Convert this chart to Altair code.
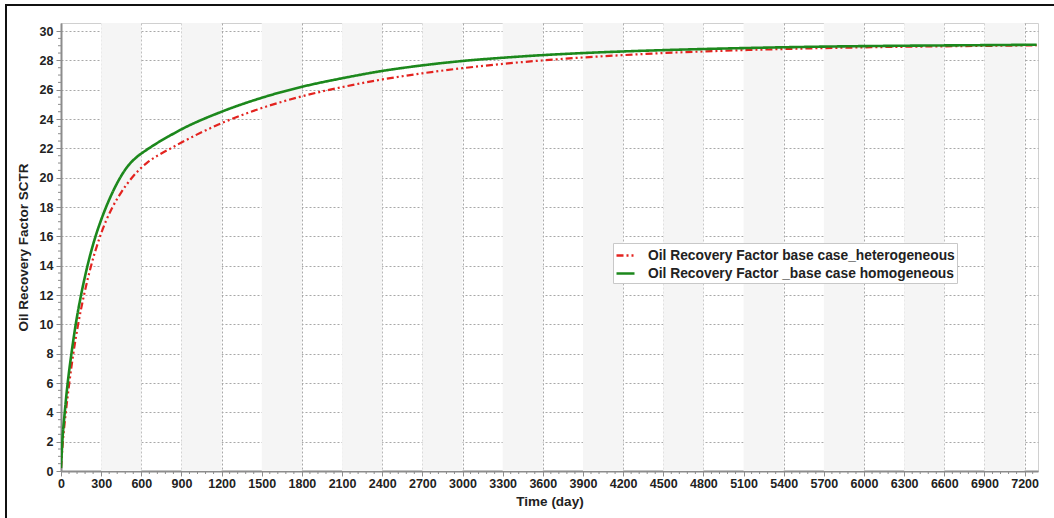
import altair as alt
import pandas as pd

# ---- data ----
het_name = "Oil Recovery Factor base case_heterogeneous"
hom_name = "Oil Recovery Factor _base case homogeneous"

hom_t = [0, 10, 28, 50, 78, 110, 150, 198, 258, 295, 337, 385, 442, 500, 565, 640, 725, 810, 900, 1200, 1500,
         1800, 2100, 2400, 2700, 3000, 3300, 3600, 3900, 4200, 4500, 5100, 5700, 6300, 6900, 7290]
hom_v = [0.2, 2, 4, 6, 8, 10, 12, 14, 16, 17, 18, 19, 20, 20.8, 21.4, 21.9, 22.4, 22.85, 23.3, 24.5, 25.45,
         26.2, 26.78, 27.28, 27.66, 27.96, 28.18, 28.36, 28.5, 28.61, 28.7, 28.84, 28.94, 29.0, 29.04, 29.07]

het_t = [0, 14, 36, 62, 92, 128, 172, 225, 292, 385, 450, 530, 640, 730, 820, 900, 1200, 1500,
         1800, 2100, 2400, 2700, 3000, 3300, 3600, 3900, 4200, 4500, 5100, 5700, 6300, 6900, 7290]
het_v = [0.2, 2, 4, 6, 8, 10, 12, 14, 16, 18, 19, 20, 21, 21.55, 22.0, 22.4, 23.72, 24.75,
         25.55, 26.18, 26.7, 27.12, 27.47, 27.76, 28.0, 28.2, 28.36, 28.5, 28.7, 28.84, 28.93, 28.99, 29.03]

x_ticks = list(range(0, 7201, 300))
y_ticks = list(range(0, 31, 2))
band_start = list(range(300, 7300, 600))
x_minor = [v for v in range(0, 7300, 60) if v % 300 != 0]
y_minor = [v / 2 for v in range(0, 61) if v % 4 != 0]

X_MAX = 7300
Y_MAX = 30.55
W, H = 977, 448

df = pd.concat([
    pd.DataFrame({"t": het_t, "v": het_v, "series": het_name}),
    pd.DataFrame({"t": hom_t, "v": hom_v, "series": hom_name}),
])

xs = alt.Scale(domain=[0, X_MAX], nice=False, zero=False)
ys = alt.Scale(domain=[0, Y_MAX], nice=False, zero=False)

FONT = "Liberation Sans"

x_axis = alt.Axis(
    values=x_ticks, format="d", title="Time (day)", grid=True, gridDash=[2, 2], gridColor="#a8a8a8",
    gridWidth=1, domainColor="#8c8c8c", domainWidth=2, tickColor="#8c8c8c", tickSize=5,
    tickWidth=1, labelFont=FONT, labelFontSize=12.5, labelFontWeight="bold", labelColor="#222",
    labelPadding=1, labelFlush=False, titleFont=FONT, titleFontSize=13.5, titleFontWeight="bold",
    titleColor="#222", titlePadding=5)
y_axis = alt.Axis(
    values=y_ticks, format="d", title="Oil Recovery Factor SCTR", grid=True, gridDash=[2, 2],
    gridColor="#a8a8a8", gridWidth=1, domainColor="#8c8c8c", domainWidth=2,
    tickColor="#8c8c8c", tickSize=5, tickWidth=1, labelFont=FONT, labelFontSize=12.5,
    labelFontWeight="bold", labelColor="#222", labelPadding=3, titleFont=FONT,
    titleFontSize=13.5, titleFontWeight="bold", titleColor="#222", titlePadding=9)

bands = alt.Chart(pd.DataFrame({"s": band_start, "e": [min(b + 300, X_MAX) for b in band_start]})).mark_rect(
    color="#f5f5f5"
).encode(
    x=alt.X("s:Q", scale=xs, axis=x_axis),
    x2="e:Q",
    y=alt.value(0),
    y2=alt.value(H),
)

base_axes = alt.Chart(pd.DataFrame({"t": [0], "v": [0]})).mark_point(opacity=0).encode(
    x=alt.X("t:Q", scale=xs, axis=x_axis),
    y=alt.Y("v:Q", scale=ys, axis=y_axis),
)

xminor = alt.Chart(pd.DataFrame({"m": x_minor})).mark_rule(color="#8c8c8c", strokeWidth=1).encode(
    x=alt.X("m:Q", scale=xs, axis=x_axis), y=alt.value(H), y2=alt.value(H + 3))
yminor = alt.Chart(pd.DataFrame({"m": y_minor})).mark_rule(color="#8c8c8c", strokeWidth=1).encode(
    y=alt.Y("m:Q", scale=ys, axis=y_axis), x=alt.value(-3), x2=alt.value(0))

color_scale = alt.Scale(domain=[het_name, hom_name], range=["#e3231f", "#1c881c"])
dash_scale = alt.Scale(domain=[het_name, hom_name], range=[[7, 3, 2, 3, 2, 3], [1, 0]])

def line(name, width):
    return alt.Chart(df).transform_filter(alt.datum.series == name).mark_line(
        strokeWidth=width, clip=True, interpolate="monotone").encode(
        x=alt.X("t:Q", scale=xs, axis=x_axis),
        y=alt.Y("v:Q", scale=ys, axis=y_axis),
        color=alt.Color("series:N", scale=color_scale, sort=[het_name, hom_name],
                        legend=alt.Legend(title=None, orient="none", legendX=552, legendY=220,
                                          fillColor="white", strokeColor="#c8c8c8", padding=2,
                                          symbolType="stroke", symbolSize=324, symbolStrokeWidth=2.5,
                                          labelFont=FONT, labelFontSize=13.8, labelFontWeight="bold",
                                          labelColor="#222", labelOffset=12, rowPadding=0,
                                          labelLimit=400)),
        strokeDash=alt.StrokeDash("series:N", scale=dash_scale, sort=[het_name, hom_name], legend=None),
        order=alt.Order("t:Q"),
    )

frame = alt.Chart(pd.DataFrame({"a": [0]})).mark_rect(
    fill=None, stroke="#111", strokeWidth=2).encode(
    x=alt.value(-55), x2=alt.value(1054 - 61 + 10), y=alt.value(-18), y2=alt.value(518 - 23 + 10))

chart = alt.layer(
    bands, base_axes, xminor, yminor, line(het_name, 2.2), line(hom_name, 2.6), frame
).resolve_scale(color="shared", strokeDash="shared").properties(
    width=W, height=H,
    autosize=alt.AutoSizeParams(type="none"),
    padding={"left": 61, "top": 23, "right": 16, "bottom": 47},
    background="white",
).configure_view(stroke="#d0d0d0", strokeWidth=1)

chart.save("out.html", embed_options={"renderer": "svg", "actions": False})
